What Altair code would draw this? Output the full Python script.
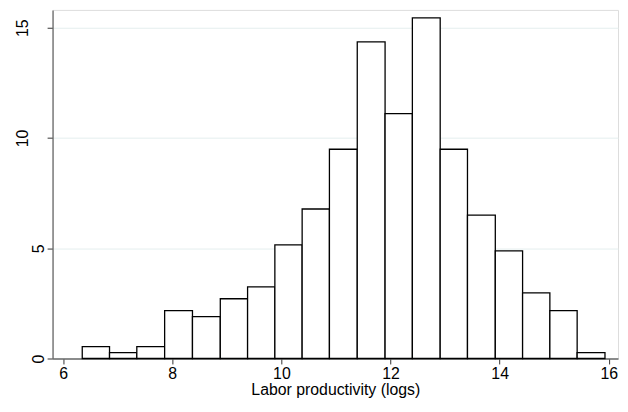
import altair as alt
import pandas as pd

# Histogram bins (left edges) and percentages
bin_left = [6.35, 6.85, 7.35, 7.86, 8.37, 8.88, 9.38, 9.88, 10.38, 10.88,
            11.39, 11.90, 12.40, 12.91, 13.41, 13.92, 14.42, 14.92, 15.42]
bin_last_right = 15.93
percent = [0.54, 0.27, 0.54, 2.17, 1.90, 2.71, 3.25, 5.15, 6.78, 9.49,
           14.36, 11.11, 15.45, 9.49, 6.50, 4.88, 2.98, 2.17, 0.27]
x_ticks = [6, 8, 10, 12, 14, 16]
y_ticks = [0, 5, 10, 15]
x_title = "Labor productivity (logs)"

df = pd.DataFrame({
    "lo": bin_left,
    "hi": bin_left[1:] + [bin_last_right],
    "pct": percent,
})

FONT = "Liberation Sans"

chart = alt.Chart(df).mark_rect(
    fill="white", stroke="black", strokeWidth=1.3
).encode(
    x=alt.X(
        "lo:Q",
        scale=alt.Scale(domain=[5.806, 16.169], nice=False, zero=False),
        axis=alt.Axis(
            values=x_ticks, title=x_title, grid=False,
            domainColor="#6b6b6b", domainWidth=1.3,
            tickColor="#333333", tickSize=5.5, tickWidth=1,
            labelFontSize=16, labelPadding=2, labelColor="black",
            labelFlush=False, labelOverlap=False,
            titleFontSize=16, titleFontWeight="normal", titleColor="black",
            titlePadding=0,
        ),
    ),
    x2="hi:Q",
    y=alt.Y(
        "pct:Q",
        scale=alt.Scale(domain=[0, 15.81], nice=False, zero=True),
        axis=alt.Axis(
            values=y_ticks, title=None, grid=True,
            gridColor="#e4eeee", gridWidth=1,
            domainColor="#6b6b6b", domainWidth=1.3,
            tickColor="#333333", tickSize=5.5, tickWidth=1,
            labelFontSize=16, labelColor="black",
            labelAngle=270, labelAlign="center",
            labelBaseline={"condition": {"test": "datum.value < 10", "value": "top"},
                           "value": "bottom"},
            labelPadding=17, labelFlush=False, labelOverlap=False,
        ),
    ),
    y2=alt.datum(0),
).properties(
    width=571,
    height=352,
    autosize="none",
    padding={"left": 45, "top": 0, "right": 2, "bottom": 44},
).configure_view(
    stroke=None
).configure(
    font=FONT, background="white"
)

chart.save("out.html", embed_options={"renderer": "svg", "actions": False})
